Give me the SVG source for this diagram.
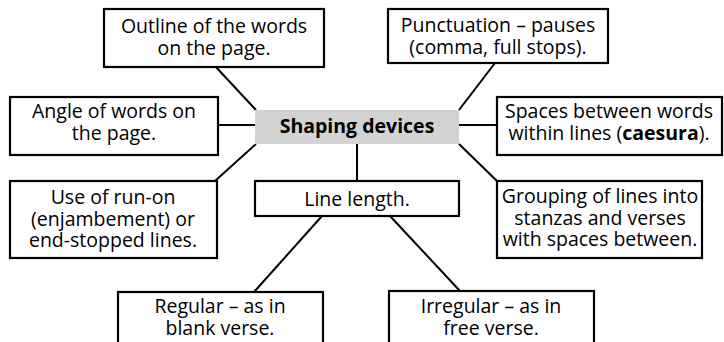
<svg xmlns="http://www.w3.org/2000/svg" width="724" height="342" viewBox="0 0 724 342">
<style>
.box{fill:#fff;stroke:#000;stroke-width:2.2}
.hub{fill:#d3d3d3;stroke:none}
.c line{stroke:#000;stroke-width:2}
text{font-family:"Open Sans",Lato,sans-serif;font-size:19.5px;fill:#000;text-anchor:middle}
.b{font-weight:bold}
</style>
<rect width="724" height="342" fill="#fff"/>
<g class="c">
<line x1="215" y1="66" x2="256" y2="110"/>
<line x1="218" y1="125" x2="256" y2="125"/>
<line x1="256" y1="144" x2="215" y2="181"/>
<line x1="357" y1="144" x2="357" y2="181"/>
<line x1="495" y1="63" x2="459" y2="110"/>
<line x1="459" y1="125" x2="497" y2="125"/>
<line x1="459" y1="144" x2="497" y2="181"/>
<line x1="322" y1="216" x2="254" y2="292"/>
<line x1="390" y1="216" x2="460" y2="291"/>
</g>
<g id="hub"><rect class="hub" x="255" y="110" width="204" height="34"/><text class="b" x="357" y="133">Shaping devices</text></g>
<g id="outline"><rect class="box" x="104" y="9" width="220" height="58"/><text x="214" y="33">Outline of the words</text><text x="214" y="55">on the page.</text></g>
<g id="angle"><rect class="box" x="10" y="97" width="208" height="58"/><text x="114" y="118">Angle of words on</text><text x="114" y="140">the page.</text></g>
<g id="runon"><rect class="box" x="10" y="181" width="207" height="77"/><text x="113" y="204">Use of run-on</text><text x="113" y="226">(enjambement) or</text><text x="113" y="247">end-stopped lines.</text></g>
<g id="linelength"><rect class="box" x="255" y="181" width="204" height="35"/><text x="357" y="206">Line length.</text></g>
<g id="punct"><rect class="box" x="388" y="9" width="220" height="54"/><text x="498" y="32">Punctuation – pauses</text><text x="498" y="54">(comma, full stops).</text></g>
<g id="spaces"><rect class="box" x="497" y="97" width="225" height="58"/><text x="609" y="118">Spaces between words</text><text x="609" y="140">within lines (<tspan class="b">caesura</tspan>).</text></g>
<g id="grouping"><rect class="box" x="497" y="181" width="205" height="77"/><text x="600" y="203">Grouping of lines into</text><text x="600" y="225">stanzas and verses</text><text x="600" y="246">with spaces between.</text></g>
<g id="regular"><rect class="box" x="118" y="292" width="205" height="60"/><text x="220" y="313">Regular – as in</text><text x="220" y="335">blank verse.</text></g>
<g id="irregular"><rect class="box" x="389" y="291" width="205" height="60"/><text x="491" y="313">Irregular – as in</text><text x="491" y="335">free verse.</text></g>
</svg>
